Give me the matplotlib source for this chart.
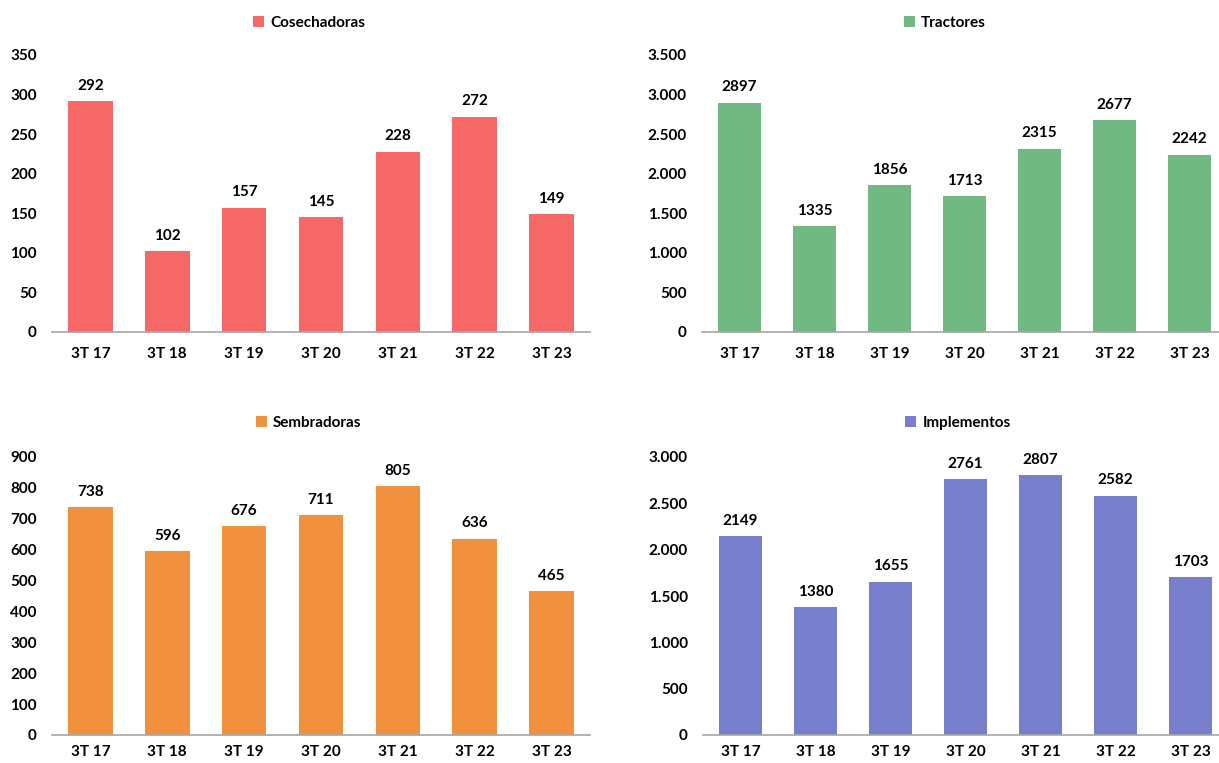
import matplotlib
matplotlib.use("Agg")
import matplotlib.pyplot as plt
from matplotlib.ticker import FuncFormatter, MultipleLocator

plt.rcParams['font.family'] = ['Lato', 'DejaVu Sans']
plt.rcParams['font.weight'] = 'bold'

categories = ["3T 17", "3T 18", "3T 19", "3T 20", "3T 21", "3T 22", "3T 23"]

cosechadoras = [292, 102, 157, 145, 228, 272, 149]
tractores = [2897, 1335, 1856, 1713, 2315, 2677, 2242]
sembradoras = [738, 596, 676, 711, 805, 636, 465]
implementos = [2149, 1380, 1655, 2761, 2807, 2582, 1703]

W, H = 1219, 763
fig = plt.figure(figsize=(W / 100, H / 100), dpi=100)


def thousands(v, pos):
    return "{:,.0f}".format(v).replace(",", ".")


panels = [
    # name, data, color, axes rect (px: left, right, y0, ytop), ymax, step, legend center px, xpad
    ("Cosechadoras", cosechadoras, "#F66767", (52, 590, 332, 55), 350, 50, (309, 23), 11),
    ("Tractores", tractores, "#72B883", (702, 1227, 332, 55), 3500, 500, (945, 23), 11),
    ("Sembradoras", sembradoras, "#F2913D", (52, 590, 735, 457), 900, 100, (309, 423), 7),
    ("Implementos", implementos, "#777ECB", (703, 1228, 735, 457), 3000, 500, (958, 423), 7),
]

for name, vals, col, (l, r, yb, yt), ymax, step, (lx, ly), xpad in panels:
    ax = fig.add_axes([l / W, 1 - yb / H, (r - l) / W, (yb - yt) / H])
    x = range(len(categories))
    bars = ax.bar(x, vals, width=0.58, color=col, label=name)
    ax.set_xlim(-0.5, len(categories) - 0.5)
    ax.set_ylim(0, ymax)
    ax.yaxis.set_major_locator(MultipleLocator(step))
    ax.yaxis.set_major_formatter(FuncFormatter(thousands))
    ax.set_xticks(list(x))
    ax.set_xticklabels(categories)
    ax.tick_params(axis='both', length=0, labelsize=11)
    ax.tick_params(axis='x', pad=xpad)
    ax.tick_params(axis='y', pad=11)
    for s in ['top', 'right', 'left']:
        ax.spines[s].set_visible(False)
    ax.spines['bottom'].set_color('#A6A6A6')
    ax.spines['bottom'].set_linewidth(1.2)
    for b, v in zip(bars, vals):
        ax.annotate(str(v), (b.get_x() + b.get_width() / 2, v),
                    xytext=(0, 6), textcoords='offset points',
                    ha='center', va='bottom', fontsize=11, fontweight='bold')
    fig.legend(handles=[bars], labels=[name], loc='center',
               bbox_to_anchor=(lx / W, 1 - ly / H), frameon=False,
               handlelength=0.7, handleheight=0.7, handletextpad=0.4,
               prop={'size': 11, 'weight': 'bold'})

fig.savefig("out.png", dpi=100)
